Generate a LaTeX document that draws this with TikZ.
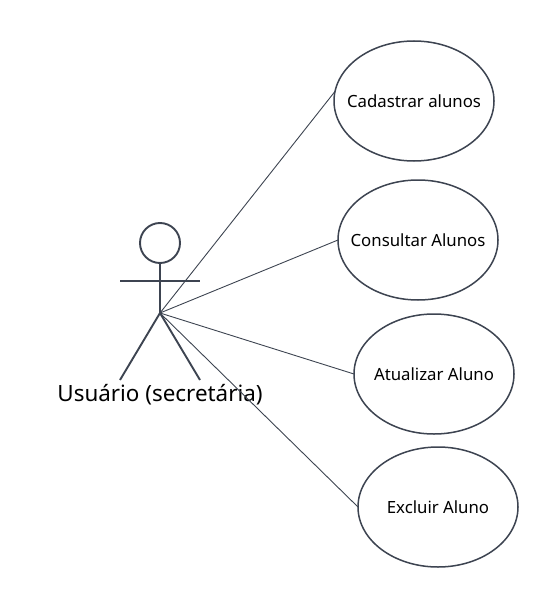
\documentclass[tikz,border=0pt]{standalone}
\usepackage{fontspec}
\setmainfont{Noto Sans}
\usetikzlibrary{shapes.geometric}
\definecolor{umlgray}{HTML}{3D4451}
\tikzset{
  usecase/.style={draw=umlgray,line width=1.5pt,ellipse,fill=white,minimum width=160pt,minimum height=120pt,inner xsep=-30pt,inner ysep=0pt,outer sep=0pt,font=\fontsize{16.8}{19}\selectfont},
  limb/.style={draw=umlgray,line width=1.9pt},
  assoc/.style={draw=umlgray,line width=0.9pt}
}
\begin{document}
\begin{tikzpicture}[x=1pt,y=-1pt]
  \useasboundingbox (0,0) rectangle (558,607);
  \node[usecase] (cadastrar) at (414,101) {Cadastrar alunos};
  \node[usecase] (consultar) at (418,240) {Consultar Alunos};
  \node[usecase] (atualizar) at (434,374) {Atualizar Aluno};
  \node[usecase] (excluir) at (438,507) {Excluir Aluno};
  \node[draw=umlgray,line width=1.9pt,circle,minimum size=40pt,inner sep=0pt,outer sep=0pt] (head) at (160,243) {};
  \coordinate (hip) at (160,313);
  \coordinate (handl) at (120,281);
  \coordinate (handr) at (200,281);
  \coordinate (footl) at (120,380);
  \coordinate (footr) at (200,380);
  \draw[limb] (head.south) -- (hip);
  \draw[limb] (handl) -- (handr);
  \draw[limb] (footl) -- (hip) -- (footr);
  \node[font=\fontsize{22.4}{26}\selectfont,inner sep=0pt] (usuario) at (160,395) {Usuário (secretária)};
  \draw[assoc] (hip) -- (cadastrar.173);
  \draw[assoc] (hip) -- (consultar.west);
  \draw[assoc] (hip) -- (atualizar.west);
  \draw[assoc] (hip) -- (excluir.west);
\end{tikzpicture}
\end{document}
